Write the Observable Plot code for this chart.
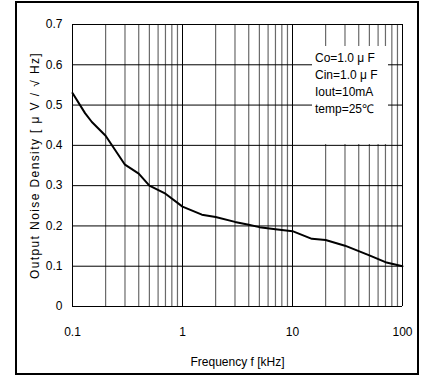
<!DOCTYPE html>
<html><head><meta charset="utf-8">
<script src="https://cdn.jsdelivr.net/npm/d3@7"></script>
<script src="https://cdn.jsdelivr.net/npm/@observablehq/plot@0.6"></script>
<style>
body{margin:0;background:#fff;}
#wrap{position:relative;width:429px;height:376px;overflow:hidden;font-family:"Liberation Sans",Arial,sans-serif;}
#frame{position:absolute;left:15px;top:1px;width:404px;height:374px;border:2px solid #000;box-sizing:border-box;pointer-events:none;}
#legend{position:absolute;left:312px;top:46px;width:76px;height:98px;background:#fff;box-sizing:border-box;padding-top:3.5px;padding-left:3px;font-size:12px;line-height:17px;color:#000;white-space:nowrap;}
#chart{position:absolute;left:0;top:0;}
</style>
</head><body>
<div id="wrap"><div id="chart"></div><div id="legend"></div><div id="frame"></div></div>
<script>
const freq  = [0.1, 0.13, 0.15, 0.2, 0.3, 0.4, 0.5, 0.7, 1, 1.5, 2, 3, 4, 5, 7, 10, 15, 20, 30, 50, 70, 100];
const noise = [0.53, 0.48, 0.458, 0.424, 0.352, 0.33, 0.30, 0.28, 0.248, 0.228, 0.222, 0.21, 0.203, 0.197, 0.192, 0.187, 0.168, 0.165, 0.151, 0.127, 0.11, 0.10];
const majorX = [0.1, 1, 10, 100];
const minorX = [0.2,0.3,0.4,0.5,0.6,0.7,0.8,0.9, 2,3,4,5,6,7,8,9, 20,30,40,50,60,70,80,90];
const yTicks = [0, 0.1, 0.2, 0.3, 0.4, 0.5, 0.6, 0.7];
const legendLines = ["Co=1.0 \u03bc F", "Cin=1.0 \u03bc F", "Iout=10mA", "temp=25\u2103"];
const xLabel = "Frequency f [kHz]";
const yLabel = "Output Noise Density [ \u03bc V / \u221a Hz]";

const data = freq.map((f, i) => ({f, v: noise[i]}));

const svg = Plot.plot({
  width: 429, height: 376,
  marginLeft: 72, marginRight: 27, marginTop: 24, marginBottom: 70,
  style: {fontFamily: "'Liberation Sans', Arial, sans-serif", fontSize: "12px", background: "transparent"},
  x: {type: "log", domain: [0.1, 100], ticks: majorX, tickFormat: d => String(d), tickSize: 0, tickPadding: 21, label: null},
  y: {domain: [0, 0.7], ticks: yTicks, tickFormat: d => d === 0 ? "0" : d.toFixed(1), tickSize: 0, tickPadding: 10, label: null},
  marks: [
    Plot.ruleX(minorX, {stroke: "#6a6a6a", strokeWidth: 1.2}),
    Plot.ruleY(yTicks, {stroke: "#000", strokeWidth: 1}),
    Plot.ruleX(majorX, {stroke: "#000", strokeWidth: 1}),
    Plot.line(data, {x: "f", y: "v", stroke: "#000", strokeWidth: 2}),
    Plot.text([xLabel], {frameAnchor: "bottom", dy: 56, lineAnchor: "middle", fill: "#000"}),
    Plot.text([yLabel], {frameAnchor: "left", dx: -37, rotate: -90, textAnchor: "middle", lineAnchor: "middle", fill: "#000"})
  ]
});
d3.select(svg).selectAll("text").filter(function(){ return this.textContent.startsWith("Output"); }).style("letter-spacing", "1.4px");
document.getElementById("chart").appendChild(svg);
const leg = document.getElementById("legend");
legendLines.forEach(t => { const d = document.createElement("div"); d.textContent = t; leg.appendChild(d); });
</script>
</body></html>
